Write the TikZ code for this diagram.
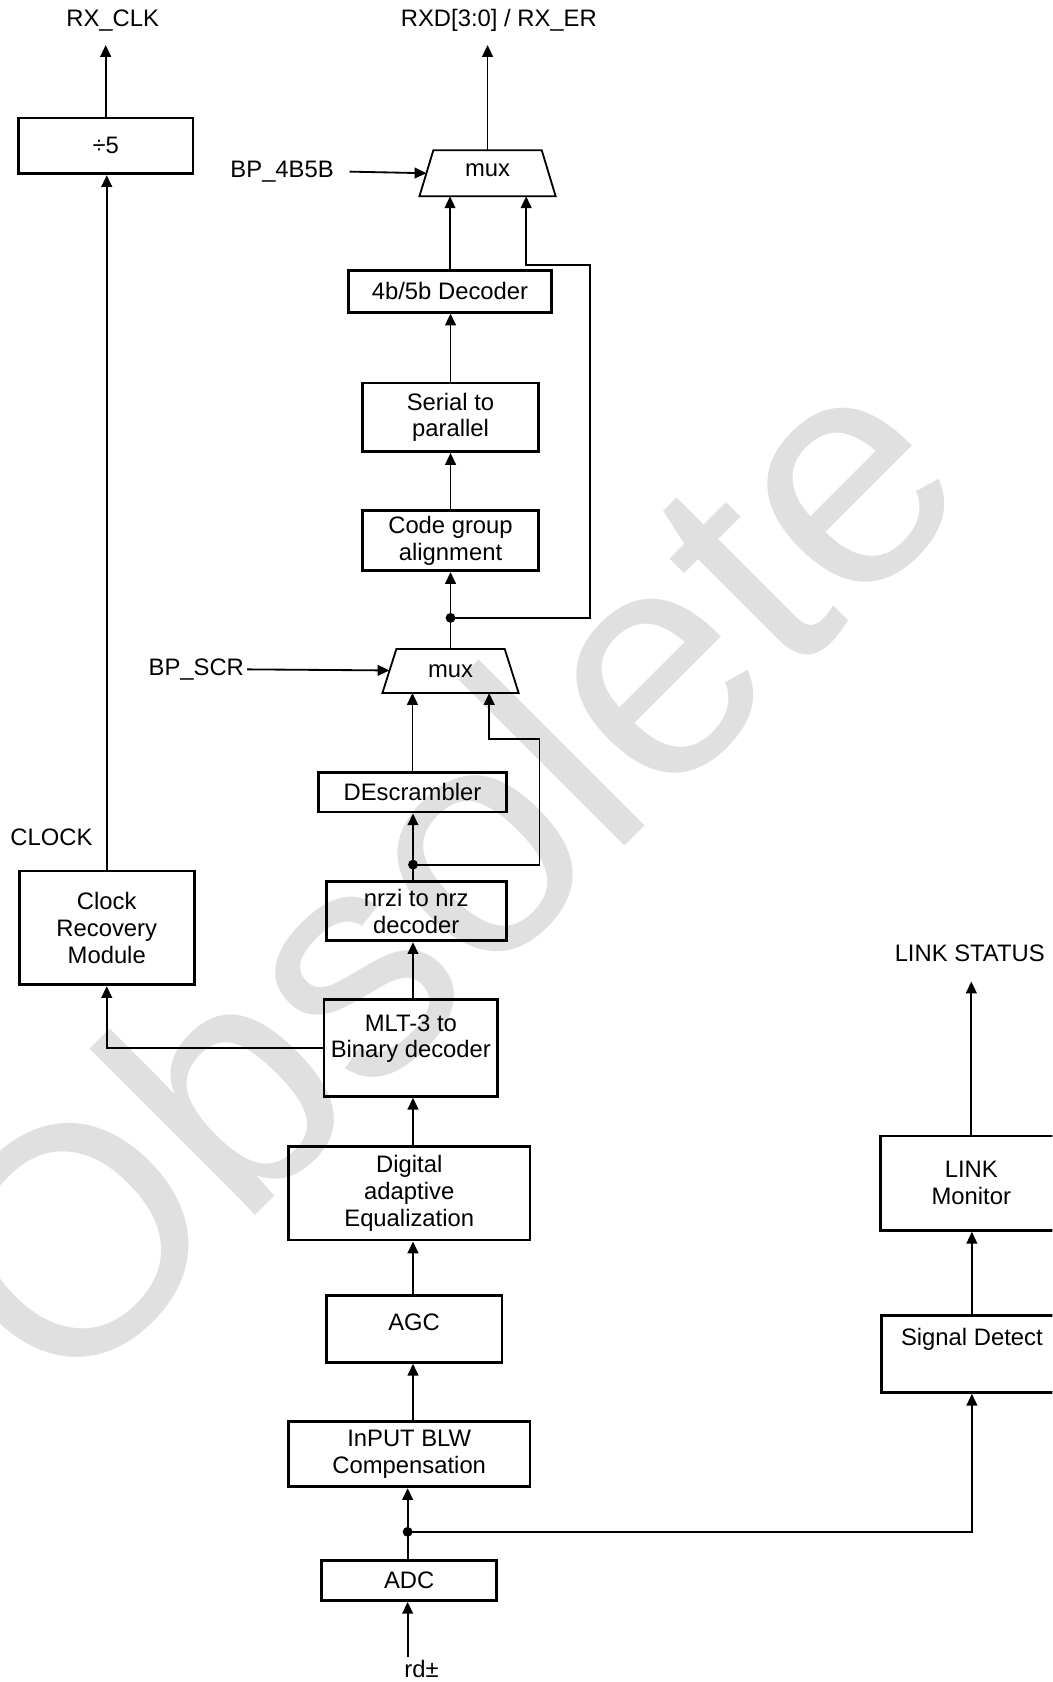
\documentclass[tikz,border=0pt]{standalone}
\usepackage{fontspec}
\setmainfont{Liberation Sans}
\usepackage{tikz}
\usetikzlibrary{arrows.meta,calc}
\tikzset{>={Triangle[length=5.5pt,width=5pt]}}
\tikzset{%
    box/.style 2 args={draw, line width=1.3pt, align=center, inner sep=1pt,
        minimum width=#1, minimum height=#2},
    lbl/.style={inner sep=1pt},
    dot/.style={circle, fill, inner sep=0pt, minimum size=4.6pt}
}

\begin{document}
\begin{tikzpicture}[x=0.5pt, y=-0.5pt, line width=0.85pt, font=\fontsize{11.1}{12.4}\selectfont]
\useasboundingbox (0,0) rectangle (981,1568);
\clip (0,0) rectangle (981,1568);
% watermark
\node[black!12, rotate=45, anchor=base, inner sep=0pt, font=\fontsize{151}{160}\selectfont] (wm) at (485.3,886) {Obsolete};

% clock path
\node[lbl] (rxclk) at (105,19) {RX\_CLK};
\node[box={81.5pt}{26pt}] (div5) at (98.5,136) {÷5};
\node[lbl] (clk) at (48,781) {CLOCK};
\node[box={81.5pt}{53pt}] (crm) at (99.5,865) {Clock\\Recovery\\Module};

% data path
\node[lbl] (rxd) at (465,19) {RXD[3:0] / RX\_ER};
\node[lbl] (bp4) at (263,160) {BP\_4B5B};
\node (mux1) at (454.5,159) {mux};
\draw ($(mux1)+(-50.5,-19)$) -- ($(mux1)+(50.5,-19)$) -- ($(mux1)+(63.5,24)$) -- ($(mux1)+(-63.5,24)$) -- cycle;
\coordinate (mux1l) at ($(mux1)+(-57,2.5)$);
\coordinate (mux1b) at ($(mux1)+(0,24)$);
\coordinate (mux1t) at ($(mux1)+(0,-19)$);
\node[box={94.5pt}{19.5pt}] (dec45) at (419.5,271.5) {4b/5b Decoder};
\node[box={82pt}{32pt}] (s2p) at (420,389) {Serial to\\parallel};
\node[box={82pt}{28pt}] (cga) at (420,504) {Code group\\alignment};
\node[lbl] (bpscr) at (183,624) {BP\_SCR};
\node (mux2) at (420,626) {mux};
\draw ($(mux2)+(-50.5,-21)$) -- ($(mux2)+(50.5,-21)$) -- ($(mux2)+(63.5,20)$) -- ($(mux2)+(-63.5,20)$) -- cycle;
\coordinate (mux2l) at ($(mux2)+(-57,-1)$);
\coordinate (mux2b) at ($(mux2)+(0,20)$);
\coordinate (mux2t) at ($(mux2)+(0,-21)$);
\node[box={87.5pt}{18.5pt}] (desc) at (384.5,738.5) {DEscrambler};
\node[box={84pt}{27.5pt}] (nrzi) at (388,849.5) {nrzi to nrz\\decoder};
\node[box={81pt}{45pt}, text depth=11pt] (mlt) at (383,977) {MLT-3 to\\Binary decoder};
\node[box={112.5pt}{43.5pt}] (dae) at (381.5,1112.5) {Digital\\adaptive\\Equalization};
\node[box={82pt}{31pt}, text depth=6pt] (agc) at (386,1239) {AGC};
\node[box={112.5pt}{30.5pt}] (blw) at (381.5,1355.5) {InPUT BLW\\Compensation};
\node[box={81.5pt}{18.5pt}] (adc) at (381.5,1473.5) {ADC};
\node[lbl] (rd) at (393,1556) {rd±};

% link path
\node[lbl] (lnkst) at (904,889) {LINK STATUS};
\node[box={84.5pt}{44pt}] (lnk) at (905.5,1103) {LINK\\Monitor};
\node[box={84pt}{36pt}, text depth=16pt] (sd) at (906,1262) {Signal Detect};

\node[dot] (j0) at (380,1428) {};
\node[dot] (j1) at (385,806) {};
\node[dot] (j2) at (420,576) {};
\coordinate (sp0) at (380,0);
\coordinate (sp) at (385,0);
\coordinate (rxclkt) at (99,42);
\coordinate (rxdt) at (454,42);
\coordinate (lnkt) at (906,915);
\coordinate (fb1) at (550,247);
\coordinate (fb2) at (503,689);

\draw[->] (div5.north) -- (div5.north |- rxclkt);
\draw[->] (crm.north) -- (crm.north |- div5.south);
\draw[->] (mlt.west) -| (crm.south);
\draw[->] (mux1t) -- (mux1t |- rxdt);
\draw[->] ([xshift=6pt]bp4.east) -- (mux1l);
\draw[->] (dec45.north) -- (dec45.north |- mux1b);
\draw[->] (j2.center) -| (fb1) -| ([xshift=18pt]mux1b);
\draw[->] (s2p.north) -- (s2p.north |- dec45.south);
\draw[->] (cga.north) -- (cga.north |- s2p.south);
\draw[->] (mux2t) -- (mux2t |- cga.south);
\draw[->] (bpscr.east) -- (mux2l);
\draw[->] (desc.north) -- (desc.north |- mux2b);
\draw[->] (j1.center) -| (fb2) -| ([xshift=18pt]mux2b);
\draw[->] (nrzi.north -| sp) -- (desc.south -| sp);
\draw[->] (mlt.north -| sp) -- (nrzi.south -| sp);
\draw[->] (dae.north -| sp) -- (mlt.south -| sp);
\draw[->] (agc.north -| sp) -- (dae.south -| sp);
\draw[->] (blw.north -| sp) -- (agc.south -| sp);
\draw[->] (adc.north -| sp0) -- (blw.south -| sp0);
\draw[->] (rd.north -| sp0) -- (adc.south -| sp0);
\draw[->] (j0.center) -| (sd.south);
\draw[->] (sd.north) -- (sd.north |- lnk.south);
\draw[->] (lnk.north) -- (lnk.north |- lnkt);
\end{tikzpicture}
\end{document}
